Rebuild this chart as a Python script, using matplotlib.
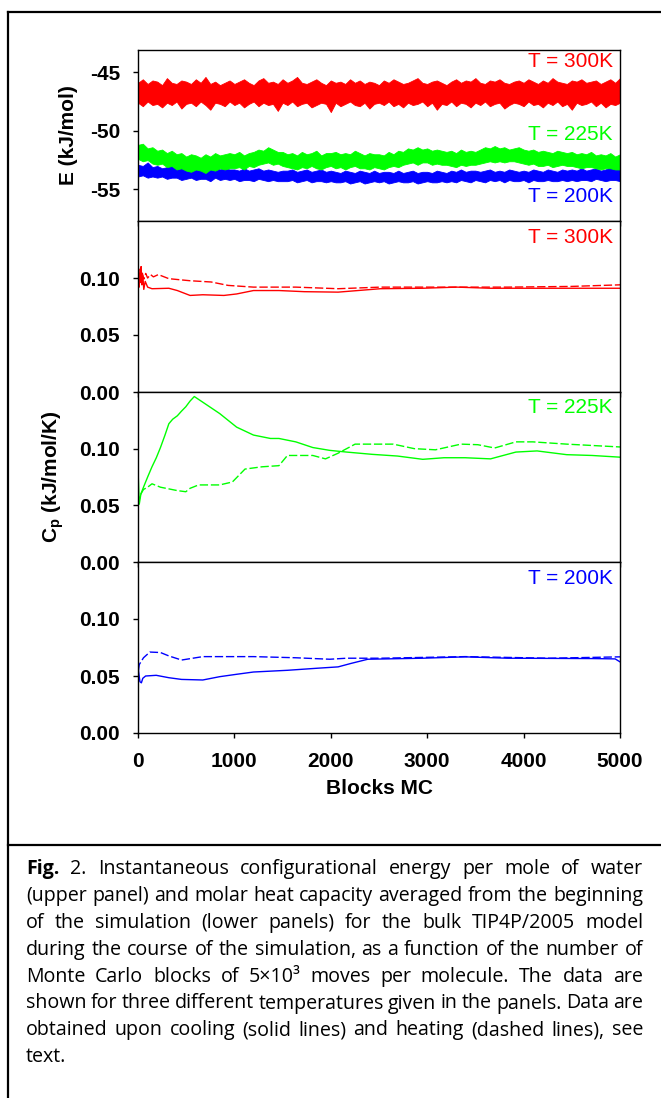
import matplotlib
matplotlib.use("Agg")
import matplotlib.pyplot as plt
from matplotlib.lines import Line2D
import numpy as np

plt.rcParams["font.family"] = ["Liberation Sans", "DejaVu Sans"]
plt.rcParams["mathtext.default"] = "regular"

W, H = 661, 1098

# ---- upper panel: instantaneous energy, band read as upper / lower edges every 50 blocks
e_blocks = np.arange(0, 5001, 50)

red_hi = [-45.9, -45.6, -46.0, -45.7, -45.8, -46.1, -45.5, -45.9, -46.0, -45.7,
          -45.8, -46.0, -45.6, -45.9, -45.4, -46.0, -45.8, -46.1, -45.9, -45.7,
          -46.0, -45.8, -45.6, -45.9, -46.1, -45.7, -45.5, -45.9, -45.8, -46.0,
          -45.6, -45.9, -45.7, -45.4, -45.9, -46.0, -45.8, -45.6, -45.9, -46.1,
          -45.7, -45.9, -45.8, -46.0, -45.6, -45.9, -45.7, -46.0, -45.8, -45.9,
          -46.1, -45.7, -45.9, -45.6, -45.8, -46.0, -45.9, -45.7, -45.5, -45.9,
          -46.0, -45.8, -45.7, -45.9, -46.1, -45.8, -45.6, -45.9, -45.7, -45.8,
          -45.5, -45.9, -46.0, -45.7, -45.8, -45.6, -45.9, -46.0, -45.8, -45.7,
          -45.9, -45.6, -45.8, -46.0, -45.7, -45.9, -45.5, -45.8, -45.9, -46.0,
          -45.7, -45.8, -45.6, -45.9, -45.8, -45.7, -46.0, -45.8, -45.6, -45.9,
          -45.5]
red_lo = [-47.6, -47.9, -47.5, -47.8, -47.7, -48.0, -47.6, -47.8, -47.5, -48.1,
          -47.7, -47.6, -47.9, -47.5, -47.8, -48.2, -47.6, -47.7, -47.9, -47.5,
          -47.8, -47.6, -48.0, -47.7, -47.5, -47.9, -47.6, -47.8, -47.7, -48.3,
          -47.6, -47.8, -47.5, -47.9, -47.7, -47.6, -48.0, -47.8, -47.6, -47.7,
          -48.4, -47.6, -47.9, -47.7, -47.5, -47.8, -47.9, -47.6, -48.1, -47.7,
          -47.6, -47.8, -47.5, -47.9, -47.7, -48.0, -47.6, -47.8, -47.7, -47.5,
          -47.9, -47.6, -48.2, -47.7, -47.8, -47.5, -47.9, -47.6, -47.7, -48.0,
          -47.6, -47.8, -47.5, -47.9, -47.7, -47.6, -48.1, -47.8, -47.6, -47.7,
          -47.9, -47.5, -47.8, -47.7, -48.0, -47.6, -47.8, -47.5, -47.9, -47.7,
          -48.2, -47.6, -47.8, -47.7, -47.5, -47.9, -47.6, -48.0, -47.7, -47.8,
          -47.6]

green_hi = [-51.2, -51.1, -51.5, -51.4, -51.7, -51.6, -51.9, -51.7, -52.0, -51.9,
            -52.2, -52.0, -52.1, -52.3, -52.0, -52.2, -51.9, -52.1, -52.0, -51.9,
            -52.0, -51.8, -52.1, -51.9, -51.8, -51.6, -51.7, -51.4, -51.6, -51.8,
            -51.8, -52.0, -51.9, -52.1, -51.8, -52.0, -51.9, -51.7, -52.1, -51.9,
            -51.9, -51.8, -52.0, -51.9, -52.0, -51.7, -51.9, -52.1, -51.9, -52.0,
            -52.0, -52.1, -51.8, -52.0, -51.7, -51.8, -51.5, -51.6, -51.4, -51.6,
            -51.5, -51.7, -51.6, -51.7, -51.8, -51.7, -51.9, -51.6, -51.8, -51.7,
            -51.8, -51.6, -51.4, -51.5, -51.3, -51.5, -51.4, -51.6, -51.5, -51.4,
            -51.6, -51.7, -51.6, -51.8, -51.7, -51.8, -51.9, -51.7, -51.8, -51.9,
            -51.8, -52.0, -51.9, -52.0, -51.8, -52.1, -52.0, -52.1, -51.9, -52.2,
            -52.0]
green_lo = [-52.4, -52.6, -52.5, -52.8, -52.9, -52.8, -53.1, -53.0, -53.3, -53.2,
            -53.4, -53.5, -53.3, -53.4, -53.6, -53.3, -53.4, -53.2, -53.3, -53.2,
            -53.2, -53.1, -53.3, -53.0, -53.1, -52.9, -52.8, -52.7, -52.9, -52.8,
            -53.0, -53.1, -53.2, -53.3, -53.1, -53.2, -53.0, -53.2, -53.3, -53.1,
            -53.0, -53.2, -53.1, -53.3, -53.1, -53.0, -53.2, -53.2, -53.3, -53.1,
            -53.2, -53.3, -53.1, -53.0, -53.1, -52.9, -52.8, -52.7, -52.9, -52.7,
            -52.7, -52.9, -52.8, -52.9, -52.9, -53.0, -53.1, -52.9, -53.0, -52.9,
            -52.9, -52.8, -52.7, -52.6, -52.7, -52.6, -52.7, -52.6, -52.6, -52.7,
            -52.8, -52.9, -52.8, -53.0, -53.0, -52.9, -53.1, -53.0, -52.9, -53.0,
            -53.0, -53.1, -53.2, -53.1, -53.1, -53.2, -53.3, -53.2, -53.2, -53.3,
            -53.3]

blue_hi = [-52.9, -53.0, -52.7, -53.1, -53.0, -53.2, -53.1, -52.9, -53.2, -53.1,
           -53.2, -53.0, -53.3, -53.1, -53.3, -53.2, -53.0, -53.3, -53.2, -53.3,
           -53.3, -53.4, -53.2, -53.4, -53.3, -53.2, -53.4, -53.3, -53.4, -53.5,
           -53.4, -53.4, -53.3, -53.5, -53.4, -53.3, -53.5, -53.4, -53.3, -53.5,
           -53.4, -53.5, -53.6, -53.4, -53.5, -53.6, -53.4, -53.5, -53.6, -53.4,
           -53.6, -53.5, -53.5, -53.6, -53.4, -53.6, -53.5, -53.4, -53.6, -53.5,
           -53.5, -53.6, -53.4, -53.5, -53.6, -53.4, -53.5, -53.3, -53.5, -53.4,
           -53.4, -53.5, -53.4, -53.3, -53.5, -53.4, -53.5, -53.3, -53.4, -53.5,
           -53.4, -53.5, -53.3, -53.4, -53.5, -53.3, -53.4, -53.5, -53.3, -53.4,
           -53.3, -53.4, -53.2, -53.4, -53.3, -53.2, -53.4, -53.3, -53.1, -53.3,
           -53.2]
blue_lo = [-53.9, -53.8, -54.0, -53.9, -54.0, -53.9, -54.1, -54.0, -54.0, -54.2,
           -54.1, -54.0, -54.2, -54.1, -54.1, -54.3, -54.0, -54.2, -54.1, -54.2,
           -54.1, -54.3, -54.2, -54.2, -54.3, -54.1, -54.2, -54.3, -54.2, -54.3,
           -54.3, -54.3, -54.2, -54.4, -54.3, -54.2, -54.4, -54.3, -54.3, -54.4,
           -54.3, -54.4, -54.4, -54.3, -54.5, -54.4, -54.3, -54.5, -54.4, -54.3,
           -54.4, -54.3, -54.5, -54.4, -54.3, -54.4, -54.4, -54.3, -54.5, -54.4,
           -54.3, -54.4, -54.4, -54.3, -54.4, -54.3, -54.4, -54.2, -54.3, -54.4,
           -54.2, -54.3, -54.4, -54.2, -54.3, -54.2, -54.4, -54.2, -54.3, -54.3,
           -54.2, -54.4, -54.2, -54.3, -54.3, -54.2, -54.3, -54.3, -54.2, -54.3,
           -54.2, -54.3, -54.2, -54.2, -54.3, -54.1, -54.2, -54.3, -54.2, -54.2,
           -54.3]

# ---- heat capacity, running averages (solid = cooling, dashed = heating)
cp300_cool_x = [2, 3, 8, 12, 18, 25, 32, 40, 50, 60, 75, 100, 145, 320, 408, 540, 672,
                891, 1023, 1198, 1462, 1725, 2076, 2515, 2954, 3306, 3657, 4271, 5000]
cp300_cool_y = [0.023, 0.100, 0.108, 0.092, 0.104, 0.096, 0.110, 0.094, 0.102, 0.090,
                0.097, 0.092, 0.0906, 0.091, 0.089, 0.0847, 0.0853, 0.0847, 0.086,
                0.089, 0.089, 0.088, 0.0876, 0.0906, 0.091, 0.092, 0.091, 0.091, 0.091]
cp300_heat_x = [20, 40, 60, 80, 100, 130, 160, 211, 320, 540, 759, 935, 1198, 1637,
                2076, 2515, 3174, 3832, 4490, 5000]
cp300_heat_y = [0.098, 0.106, 0.099, 0.104, 0.100, 0.103, 0.101, 0.103, 0.0994, 0.0976,
                0.0965, 0.0935, 0.092, 0.092, 0.0906, 0.092, 0.092, 0.092, 0.0926, 0.094]

cp225_cool_x = [2, 3, 13, 30, 57, 100, 145, 190, 233, 280, 320, 360, 408, 450, 496, 540,
                584, 672, 847, 1023, 1198, 1374, 1462, 1637, 1813, 1989, 2164, 2428,
                2691, 2954, 3174, 3393, 3657, 3920, 4140, 4447, 4710, 5000]
cp225_cool_y = [0.025, 0.075, 0.051, 0.060, 0.066, 0.075, 0.084, 0.092, 0.101, 0.112,
                0.122, 0.126, 0.129, 0.133, 0.137, 0.142, 0.146, 0.141, 0.131, 0.119,
                0.112, 0.109, 0.109, 0.106, 0.101, 0.0985, 0.097, 0.095, 0.0935, 0.0906,
                0.092, 0.092, 0.091, 0.097, 0.098, 0.0947, 0.094, 0.0925]
cp225_heat_x = [3, 13, 30, 57, 100, 145, 233, 408, 496, 540, 628, 847, 979, 1110, 1286,
                1462, 1550, 1813, 1945, 2076, 2252, 2647, 2867, 3086, 3350, 3525, 3700,
                3920, 4096, 4447, 5000]
cp225_heat_y = [0.050, 0.055, 0.060, 0.064, 0.066, 0.069, 0.066, 0.063, 0.062, 0.065,
                0.068, 0.068, 0.0706, 0.082, 0.084, 0.085, 0.094, 0.094, 0.091, 0.096,
                0.104, 0.104, 0.100, 0.099, 0.104, 0.1035, 0.1006, 0.106, 0.106, 0.104,
                0.1015]

cp200_cool_x = [2, 3, 20, 35, 50, 79, 189, 320, 452, 672, 847, 1023, 1198, 1550, 1857,
                2076, 2208, 2384, 2954, 3393, 3832, 4710, 4950, 5000]
cp200_cool_y = [0.018, 0.056, 0.045, 0.044, 0.048, 0.050, 0.0506, 0.0485, 0.047, 0.0465,
                0.0494, 0.0515, 0.0535, 0.055, 0.0568, 0.058, 0.061, 0.0647, 0.0656,
                0.0668, 0.0656, 0.0653, 0.0650, 0.0624]
cp200_heat_x = [5, 13, 57, 123, 233, 320, 452, 672, 1198, 1637, 1989, 2164, 2515, 3393,
                4271, 5000]
cp200_heat_y = [0.055, 0.060, 0.066, 0.071, 0.0706, 0.0676, 0.064, 0.067, 0.067, 0.066,
                0.0647, 0.0656, 0.0656, 0.067, 0.0656, 0.0668]

x_ticks = [0, 1000, 2000, 3000, 4000, 5000]
e_ticks = [-45, -50, -55]
cp_ticks = [0.00, 0.05, 0.10]

RED, GREEN, BLUE = "#ff0000", "#00ff00", "#0000ff"
DASH = (0, (6, 2))

caption_lines = [
    "Fig. 2. Instantaneous configurational energy per mole of water",
    "(upper panel) and molar heat capacity averaged from the beginning",
    "of the simulation (lower panels) for the bulk TIP4P/2005 model",
    "during the course of the simulation, as a function of the number of",
    "Monte Carlo blocks of 5\u00d710\u00b3 moves per molecule. The data are",
    "shown for three different temperatures given in the panels. Data are",
    "obtained upon cooling (solid lines) and heating (dashed lines), see",
    "text.",
]


def style_axis(ax, yticks, ylim, fmt):
    ax.set_xlim(0, 5000)
    ax.set_ylim(*ylim)
    ax.set_xticks(x_ticks)
    ax.set_yticks(yticks)
    ax.set_yticklabels([fmt.format(v) for v in yticks])
    ax.tick_params(direction="out", length=3.6, width=1.0, labelsize=15, top=False, right=False)
    ax.tick_params(axis="y", pad=9.4)
    ax.tick_params(axis="x", pad=10)
    for lab in ax.get_yticklabels() + ax.get_xticklabels():
        lab.set_fontweight("bold")
    for sp in ax.spines.values():
        sp.set_linewidth(1.0)


fig = plt.figure(figsize=(W / 100, H / 100), dpi=100)

bounds = [(50, 221), (221, 392), (392, 562), (562, 733)]
axes = []
for top, bot in bounds:
    axes.append(fig.add_axes([138 / W, 1 - bot / H, 482 / W, (bot - top) / H]))

ax0 = axes[0]
for hi, lo, col in [(red_hi, red_lo, RED), (blue_hi, blue_lo, BLUE), (green_hi, green_lo, GREEN)]:
    ax0.fill_between(e_blocks, lo, hi, color=col, lw=0.6, edgecolor=col)
style_axis(ax0, e_ticks, (-57.7, -43.1), "{:d}")
ax0.tick_params(axis="x", labelbottom=False)
ax0.text(0.985, 0.93, "T = 300K", color=RED, fontsize=15, ha="right", va="center", transform=ax0.transAxes)
ax0.text(0.985, 0.503, "T = 225K", color=GREEN, fontsize=15, ha="right", va="center", transform=ax0.transAxes)
ax0.text(0.985, 0.146, "T = 200K", color=BLUE, fontsize=15, ha="right", va="center", transform=ax0.transAxes)

cp_sets = [
    (cp300_cool_x, cp300_cool_y, cp300_heat_x, cp300_heat_y, RED, "T = 300K"),
    (cp225_cool_x, cp225_cool_y, cp225_heat_x, cp225_heat_y, GREEN, "T = 225K"),
    (cp200_cool_x, cp200_cool_y, cp200_heat_x, cp200_heat_y, BLUE, "T = 200K"),
]
for ax, (cx, cy, hx, hy, col, lab) in zip(axes[1:], cp_sets):
    ax.plot(hx, hy, color=col, lw=1.0, linestyle=DASH)
    ax.plot(cx, cy, color=col, lw=1.0)
    style_axis(ax, cp_ticks, (0, 0.15), "{:.2f}")
    ax.text(0.985, 0.906, lab, color=col, fontsize=15, ha="right", va="center", transform=ax.transAxes)
    if ax is not axes[-1]:
        ax.tick_params(axis="x", labelbottom=False)

axes[-1].set_xlabel("Blocks MC", fontsize=15, fontweight="bold", labelpad=6)

fig.text(68 / W, 1 - 135 / H, "E (kJ/mol)", rotation=90, ha="center", va="center",
         fontsize=15, fontweight="bold")
fig.text(53 / W, 1 - 477 / H, "C$_p$ (kJ/mol/K)", rotation=90, ha="center", va="center",
         fontsize=15, fontweight="bold")

# frame round the figure and the caption box
for xy in [((8, 8), (12, H)), ((8, W), (12, 12)), ((8, W), (845, 845))]:
    (x0, x1), (y0, y1) = xy
    fig.add_artist(Line2D([x0 / W, x1 / W], [1 - y0 / H, 1 - y1 / H], color="black", lw=1.6,
                          transform=fig.transFigure))

# justified caption
CAP_FONT = ["Open Sans", "DejaVu Sans"]
left_px, right_px = 26, 643
renderer = fig.canvas.get_renderer()


def text_width(s, size, bold=False):
    t = fig.text(0, 0, s, fontsize=size, family=CAP_FONT, fontweight="bold" if bold else "normal")
    w = t.get_window_extent(renderer).width
    t.remove()
    return w


size = 10 * (right_px - left_px) / text_width(caption_lines[1], 10)
for i, line in enumerate(caption_lines):
    words = line.split(" ")
    bolds = [i == 0 and j == 0 for j in range(len(words))]
    widths = [text_width(w, size, b) for w, b in zip(words, bolds)]
    if i < len(caption_lines) - 1 and len(words) > 1:
        gap = (right_px - left_px - sum(widths)) / (len(words) - 1)
    else:
        gap = text_width("a a", size) - 2 * text_width("a", size)
    x = left_px
    y = 874 + 26.9 * i
    for w, b, wd in zip(words, bolds, widths):
        fig.text(x / W, 1 - y / H, w, fontsize=size, family=CAP_FONT,
                 fontweight="bold" if b else "normal", ha="left", va="baseline", color="black")
        x += wd + gap

fig.savefig("out.png", dpi=100)
